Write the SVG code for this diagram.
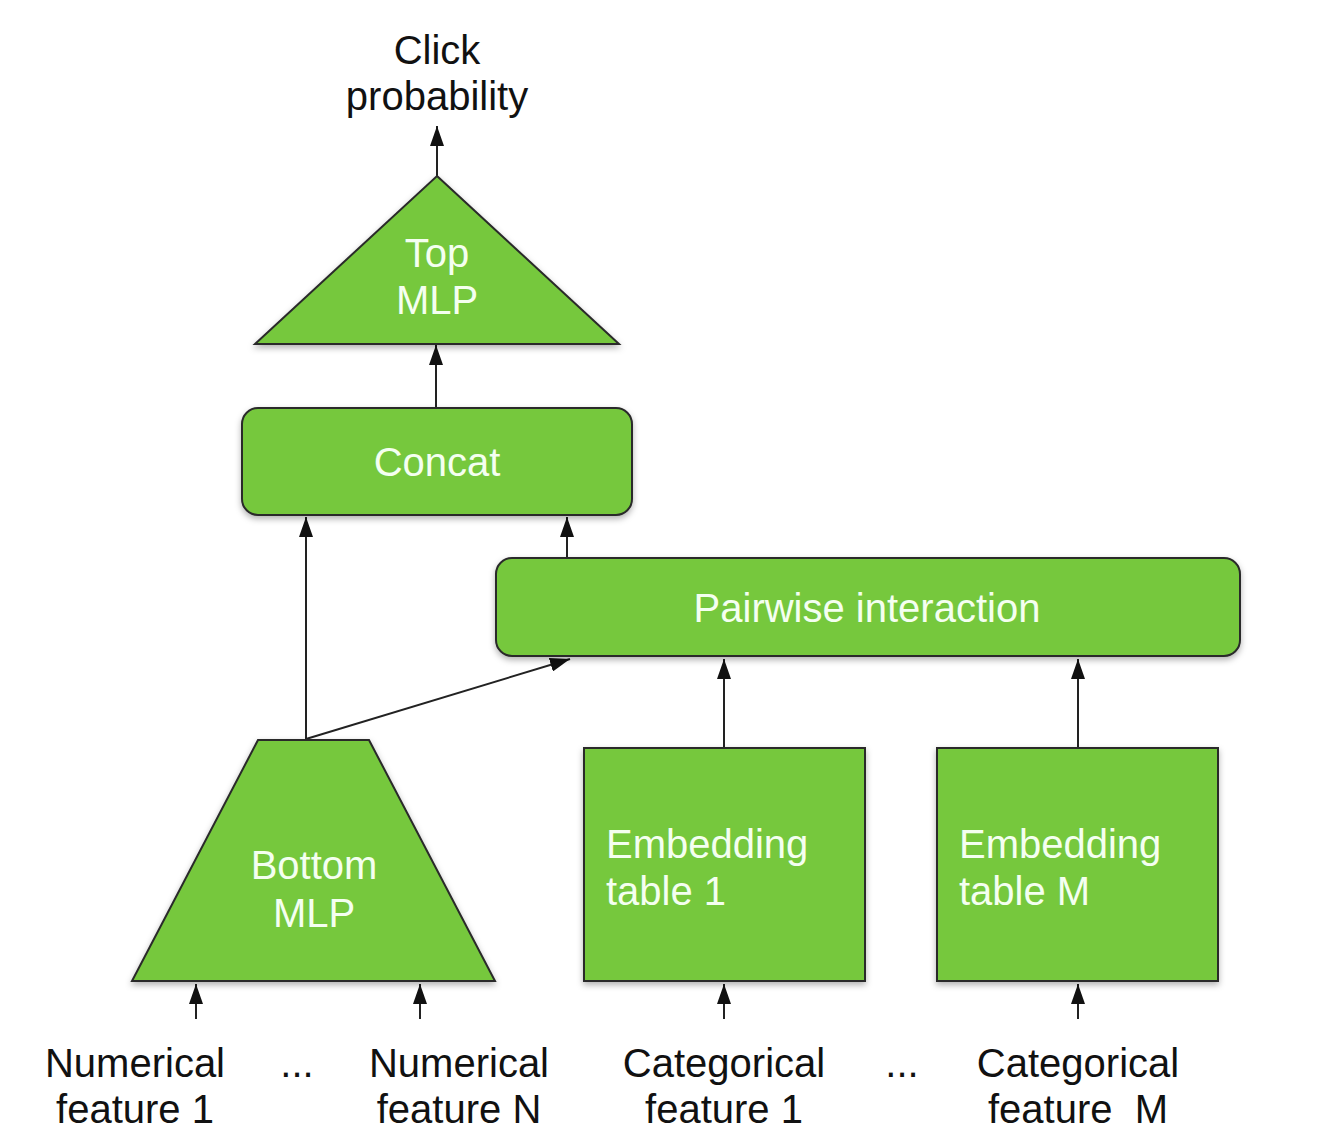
<svg xmlns="http://www.w3.org/2000/svg" width="1342" height="1146" viewBox="0 0 1342 1146">
<style>
.node{fill:#76c83e;stroke:#2a2a2a;stroke-width:2;filter:url(#sh)}
.in{font-family:"Liberation Sans",Arial,sans-serif;font-size:40px;fill:#f4fff0}
.lbl{font-family:"Liberation Sans",Arial,sans-serif;font-size:40px;fill:#111}
.edge{stroke:#222;stroke-width:2;fill:none;marker-end:url(#ah)}
</style>
<defs>
<marker id="ah" markerUnits="userSpaceOnUse" markerWidth="20" markerHeight="14" refX="20" refY="7" orient="auto">
<path d="M0,0 L20,7 L0,14 z" fill="#111"/>
</marker>
<filter id="sh" x="-10%" y="-10%" width="120%" height="130%">
<feDropShadow dx="0" dy="3" stdDeviation="3" flood-color="#000" flood-opacity="0.3"/>
</filter>
</defs>
<rect width="1342" height="1146" fill="#fff"/>

<g id="connectors">
<line class="edge" x1="437" y1="176" x2="437" y2="126"/>
<line class="edge" x1="436" y1="408" x2="436" y2="345"/>
<line class="edge" x1="306" y1="739" x2="306" y2="517"/>
<line class="edge" x1="567" y1="558" x2="567" y2="517"/>
<polyline class="edge" points="306,739 570,659"/>
<line class="edge" x1="724" y1="748" x2="724" y2="659"/>
<line class="edge" x1="1078" y1="748" x2="1078" y2="659"/>
<line class="edge" x1="196" y1="1019" x2="196" y2="984"/>
<line class="edge" x1="420" y1="1019" x2="420" y2="984"/>
<line class="edge" x1="724" y1="1019" x2="724" y2="984"/>
<line class="edge" x1="1078" y1="1019" x2="1078" y2="984"/>
</g>

<g id="click-probability">
<text class="lbl" x="437" y="64" text-anchor="middle">Click</text>
<text class="lbl" x="437" y="110" text-anchor="middle">probability</text>
</g>

<g id="top-mlp">
<polygon class="node" points="437,176 619,344 255,344"/>
<text class="in" x="437" y="267" text-anchor="middle">Top</text>
<text class="in" x="437" y="314" text-anchor="middle">MLP</text>
</g>

<g id="concat">
<rect class="node" x="242" y="408" width="390" height="107" rx="16"/>
<text class="in" x="437" y="476" text-anchor="middle">Concat</text>
</g>

<g id="pairwise">
<rect class="node" x="496" y="558" width="744" height="98" rx="16"/>
<text class="in" x="867" y="622" text-anchor="middle">Pairwise interaction</text>
</g>

<g id="bottom-mlp">
<polygon class="node" points="258,740 369,740 495,981 132,981"/>
<text class="in" x="314" y="879" text-anchor="middle">Bottom</text>
<text class="in" x="314" y="927" text-anchor="middle">MLP</text>
</g>

<g id="embedding-1">
<rect class="node" x="584" y="748" width="281" height="233"/>
<text class="in" x="606" y="858">Embedding</text>
<text class="in" x="606" y="905">table 1</text>
</g>

<g id="embedding-m">
<rect class="node" x="937" y="748" width="281" height="233"/>
<text class="in" x="959" y="858">Embedding</text>
<text class="in" x="959" y="905">table M</text>
</g>

<g id="numerical-1">
<text class="lbl" x="135" y="1077" text-anchor="middle">Numerical</text>
<text class="lbl" x="135" y="1123" text-anchor="middle">feature 1</text>
</g>
<g id="dots-1"><text class="lbl" x="297" y="1077" text-anchor="middle">...</text></g>
<g id="numerical-n">
<text class="lbl" x="459" y="1077" text-anchor="middle">Numerical</text>
<text class="lbl" x="459" y="1123" text-anchor="middle">feature N</text>
</g>
<g id="categorical-1">
<text class="lbl" x="724" y="1077" text-anchor="middle">Categorical</text>
<text class="lbl" x="724" y="1123" text-anchor="middle">feature 1</text>
</g>
<g id="dots-2"><text class="lbl" x="902" y="1077" text-anchor="middle">...</text></g>
<g id="categorical-m">
<text class="lbl" x="1078" y="1077" text-anchor="middle">Categorical</text>
<text class="lbl" x="1078" y="1123" text-anchor="middle" xml:space="preserve">feature  M</text>
</g>
</svg>
